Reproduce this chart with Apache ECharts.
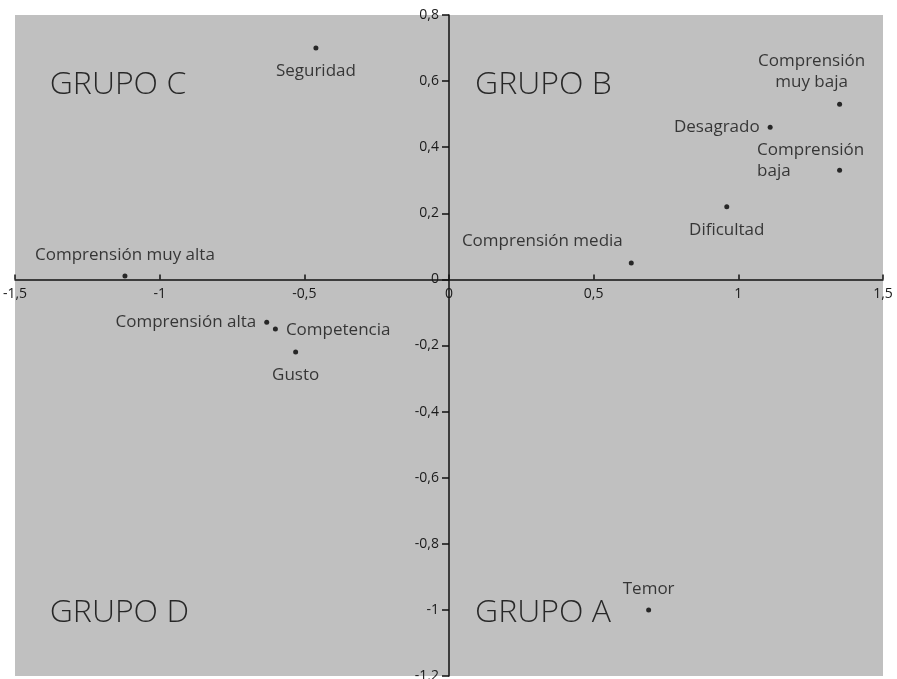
<!DOCTYPE html>
<html>
<head>
<meta charset="utf-8">
<script src="https://cdn.jsdelivr.net/npm/echarts@6/dist/echarts.min.js"></script>
<style>
html,body{margin:0;padding:0;background:#fff;}
#chart{width:897px;height:679px;}
</style>
</head>
<body>
<div id="chart"></div>
<script>
// ---- data ----
const pointNames = ['Seguridad', 'Comprensión muy alta', 'Comprensión alta', 'Competencia', 'Gusto',
  'Comprensión muy baja', 'Desagrado', 'Comprensión baja', 'Dificultad', 'Comprensión media', 'Temor'];
const xValues = [-0.46, -1.12, -0.63, -0.60, -0.53, 1.35, 1.11, 1.35, 0.96, 0.63, 0.69];
const yValues = [0.70, 0.01, -0.13, -0.15, -0.22, 0.53, 0.46, 0.33, 0.22, 0.05, -1.00];

const groupNames = ['GRUPO C', 'GRUPO B', 'GRUPO D', 'GRUPO A'];
const groupX = [-1.38, 0.09, -1.38, 0.09];
const groupY = [0.59, 0.59, -1.01, -1.01];

const xTickValues = [-1.5, -1, -0.5, 0, 0.5, 1, 1.5];
const yTickValues = [-1.2, -1, -0.8, -0.6, -0.4, -0.2, 0, 0.2, 0.4, 0.6, 0.8];

// ---- styles ----
const FONT = '"Open Sans", "DejaVu Sans", sans-serif';
const TXT = '#111';
const labelStyles = {
  'Seguridad': {position: 'bottom', distance: 12},
  'Comprensión muy alta': {position: 'top', distance: 10},
  'Comprensión alta': {position: 'left', distance: 8},
  'Competencia': {position: 'right', distance: 8, offset: [0, 1]},
  'Gusto': {position: 'bottom', distance: 12},
  'Comprensión muy baja': {position: 'top', distance: 9, offset: [-28, 0], formatter: 'Comprensión\nmuy baja', lineHeight: 21},
  'Desagrado': {position: 'left', distance: 8},
  'Comprensión baja': {position: 'inside', offset: [-29, -10],
    formatter: '{a|Comprensión}\n{b|baja}',
    rich: {a: {fontSize: 17, fontFamily: FONT, color: TXT, lineHeight: 21},
           b: {fontSize: 17, fontFamily: FONT, color: TXT, lineHeight: 21, width: 72, align: 'left'}}},
  'Dificultad': {position: 'bottom', distance: 12},
  'Comprensión media': {position: 'left', distance: 6, offset: [0, -22]},
  'Temor': {position: 'top', distance: 10}
};

const fmt = v => String(Math.round(v * 10) / 10).replace('.', ',');

const pointData = pointNames.map((n, i) => ({
  name: n,
  value: [xValues[i], yValues[i]],
  label: Object.assign({show: true, formatter: '{b}', fontSize: 17, fontFamily: FONT, color: TXT}, labelStyles[n])
}));

const groupData = groupNames.map((n, i) => ({name: n, value: [groupX[i], groupY[i]]}));

const chart = echarts.init(document.getElementById('chart'), null, {renderer: 'canvas'});
chart.setOption({
  animation: false,
  backgroundColor: '#ffffff',
  grid: {left: 15, right: 14, top: 15, bottom: 3, show: true, backgroundColor: '#c0c0c0', borderWidth: 0,
    containLabel: false, outerBoundsMode: 'none'},
  xAxis: {
    type: 'value', position: 'bottom', min: xTickValues[0], max: xTickValues[xTickValues.length - 1], interval: 0.5,
    axisLine: {onZero: false, lineStyle: {color: '#111', width: 1.5}},
    axisTick: {show: true, inside: true, length: 5, lineStyle: {color: '#111', width: 1.5}},
    axisLabel: {formatter: fmt, fontSize: 14, fontFamily: FONT, color: '#1a1a1a', margin: 8, showMinLabel: true, showMaxLabel: true, hideOverlap: false},
    splitLine: {show: false}
  },
  yAxis: {
    type: 'value', position: 'left', min: yTickValues[0], max: yTickValues[yTickValues.length - 1], interval: 0.2,
    axisLine: {onZero: false, lineStyle: {color: '#111', width: 1.5}},
    axisTick: {show: true, inside: false, length: 7, lineStyle: {color: '#111', width: 1.5}},
    axisLabel: {formatter: fmt, fontSize: 14, fontFamily: FONT, color: '#1a1a1a', margin: 10, showMinLabel: true, showMaxLabel: true, hideOverlap: false},
    splitLine: {show: false}
  },
  series: [
    {
      type: 'scatter', data: pointData, symbol: 'circle', symbolSize: 5,
      itemStyle: {color: '#000'}, z: 5
    },
    {
      type: 'scatter', data: groupData, symbolSize: 0, silent: true,
      label: {show: true, formatter: '{b}', position: 'right', distance: 0, fontSize: 32, fontWeight: 300, fontFamily: FONT, color: '#000'}
    }
  ]
});

// Move the axes so they cross at the origin (labels follow the lines).
const zero = chart.convertToPixel({gridIndex: 0}, [0, 0]);
const rect = chart.getModel().getComponent('grid', 0).coordinateSystem.getRect();
chart.setOption({
  xAxis: {offset: -(rect.y + rect.height - zero[1])},
  yAxis: {offset: -(zero[0] - rect.x)}
});
</script>
</body>
</html>
